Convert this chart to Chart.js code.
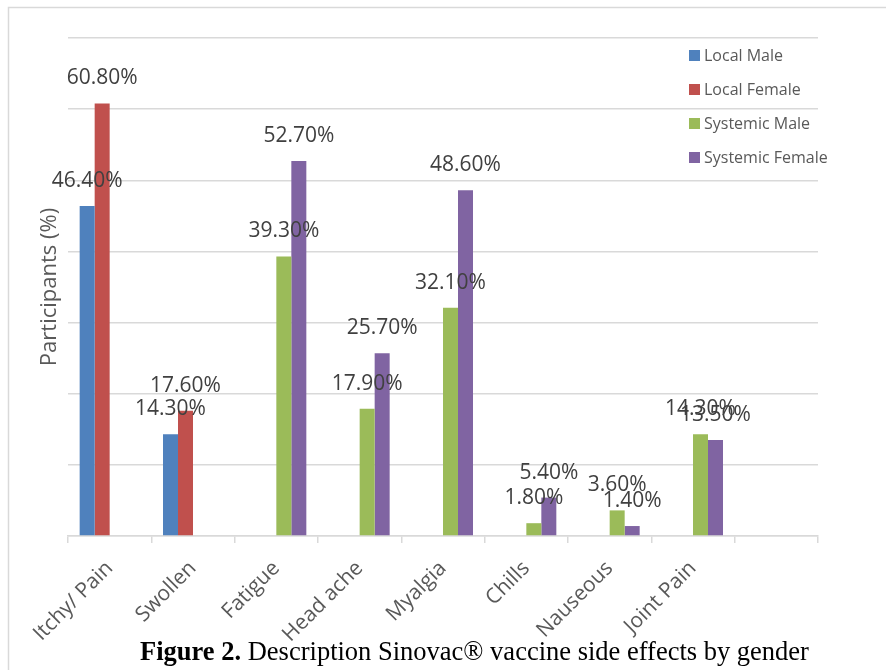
<!DOCTYPE html>
<html>
<head>
<meta charset="utf-8">
<script src="https://cdn.jsdelivr.net/npm/chart.js@4.4.1/dist/chart.umd.min.js"></script>
<style>
  html, body { margin: 0; padding: 0; background: #ffffff; }
  #wrap { position: relative; width: 886px; height: 670px; overflow: hidden; }
  #chart { position: absolute; left: 0; top: 0; }
  #caption {
    position: absolute; left: 140px; top: 638px;
    font-family: "Liberation Serif", "Times New Roman", serif;
    font-size: 26.5px; line-height: 26.5px; color: #000; white-space: nowrap;
  }
</style>
</head>
<body>
<div id="wrap">
  <canvas id="chart" width="886" height="670"></canvas>
  <div id="caption"><b>Figure 2.</b> Description Sinovac® vaccine side effects by gender</div>
</div>
<script>
// Side effects reported after Sinovac vaccination, percentage of participants by gender
const categories = ['Itchy/ Pain', 'Swollen', 'Fatigue', 'Head ache', 'Myalgia', 'Chills', 'Nauseous', 'Joint Pain', ''];
const localMale      = [46.4, 14.3, null, null, null, null, null, null, null];
const localFemale    = [60.8, 17.6, null, null, null, null, null, null, null];
const systemicMale   = [null, null, 39.3, 17.9, 32.1, 1.8, 3.6, 14.3, null];
const systemicFemale = [null, null, 52.7, 25.7, 48.6, 5.4, 1.4, 13.5, null];
const seriesNames  = ['Local Male', 'Local Female', 'Systemic Male', 'Systemic Female'];
const seriesColors = ['#4F81BD', '#C0504D', '#9BBB59', '#8064A2'];

const FONT = '"Open Sans", "DejaVu Sans", sans-serif';
const GRID = '#d9d9d9';

// Light frame around the figure
const framePlugin = {
  id: 'frame',
  beforeDraw(chart) {
    const ctx = chart.ctx;
    ctx.save();
    ctx.fillStyle = '#ffffff';
    ctx.fillRect(0, 0, chart.width, chart.height);
    ctx.strokeStyle = GRID;
    ctx.lineWidth = 1.5;
    ctx.strokeRect(8.5, 7.5, 1000, 1000);
    ctx.restore();
  }
};

// Percentage labels above each bar
const valueLabels = {
  id: 'valueLabels',
  afterDatasetsDraw(chart) {
    const ctx = chart.ctx;
    ctx.save();
    ctx.font = '21px ' + FONT;
    ctx.fillStyle = '#404040';
    ctx.textAlign = 'center';
    ctx.textBaseline = 'middle';
    chart.data.datasets.forEach((ds, i) => {
      chart.getDatasetMeta(i).data.forEach((bar, j) => {
        const v = ds.data[j];
        if (v === null || v === undefined) return;
        ctx.fillText(v.toFixed(2) + '%', bar.x, bar.y - 25);
      });
    });
    ctx.restore();
  }
};

// Vertical legend in the upper right of the plot
const sideLegend = {
  id: 'sideLegend',
  afterDraw(chart) {
    const ctx = chart.ctx;
    ctx.save();
    ctx.font = '16px ' + FONT;
    ctx.textBaseline = 'middle';
    ctx.textAlign = 'left';
    chart.data.datasets.forEach((ds, i) => {
      const y = 50 + i * 34;
      ctx.fillStyle = ds.backgroundColor;
      ctx.fillRect(689, y, 11, 11);
      ctx.fillStyle = '#595959';
      ctx.fillText(ds.label, 704, y + 6);
    });
    ctx.restore();
  }
};

const datasetValues = [localMale, localFemale, systemicMale, systemicFemale];

new Chart(document.getElementById('chart'), {
  type: 'bar',
  data: {
    labels: categories,
    datasets: datasetValues.map((vals, i) => ({
      label: seriesNames[i],
      data: vals,
      backgroundColor: seriesColors[i],
      borderWidth: 0,
      categoryPercentage: 0.72,
      barPercentage: 1.0
    }))
  },
  options: {
    responsive: false,
    animation: false,
    devicePixelRatio: 1,
    layout: { padding: { left: 24, top: 38, right: 68, bottom: 0 } },
    plugins: {
      legend: { display: false },
      tooltip: { enabled: false }
    },
    scales: {
      x: {
        offset: true,
        grid: {
          offset: true,
          drawOnChartArea: false,
          drawTicks: true,
          tickLength: 7,
          color: GRID,
          lineWidth: 1.5
        },
        border: { display: true, color: GRID, width: 1.5 },
        ticks: {
          minRotation: 45,
          maxRotation: 45,
          autoSkip: false,
          padding: 13,
          color: '#595959',
          font: { family: FONT, size: 21 }
        },
        afterFit(scale) { scale.height = 670 - 536; }
      },
      y: {
        min: 0,
        max: 70,
        ticks: { stepSize: 10, display: false },
        grid: { color: GRID, lineWidth: 1.5, drawTicks: false },
        border: { display: false },
        title: {
          display: true,
          text: 'Participants (%)',
          color: '#595959',
          font: { family: FONT, size: 22 },
          padding: { top: 13, bottom: 0 }
        },
        afterFit(scale) { scale.width = 44; }
      }
    }
  },
  plugins: [framePlugin, valueLabels, sideLegend]
});
</script>
</body>
</html>
